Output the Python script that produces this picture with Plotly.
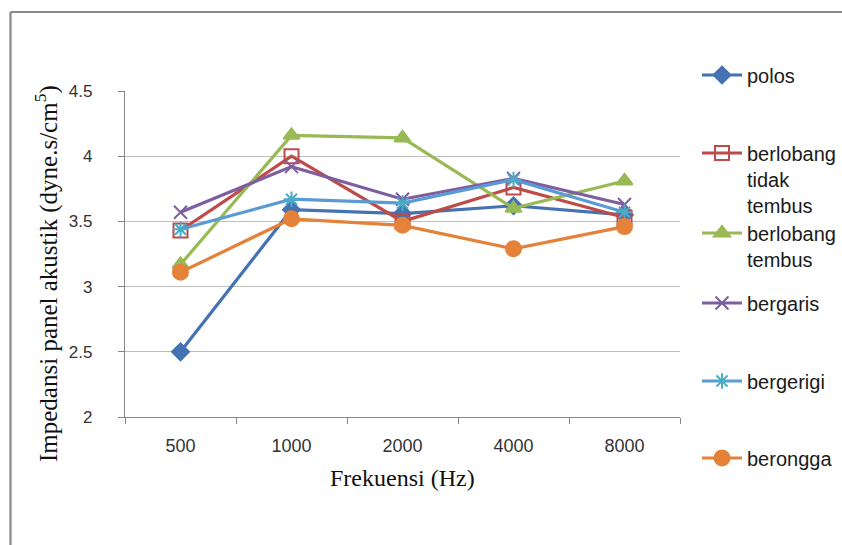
import plotly.graph_objects as go

categories = ["500", "1000", "2000", "4000", "8000"]
polos = [2.50, 3.59, 3.56, 3.62, 3.55]
berlobang_tidak_tembus = [3.43, 4.00, 3.50, 3.76, 3.53]
berlobang_tembus = [3.17, 4.16, 4.14, 3.60, 3.81]
bergaris = [3.57, 3.92, 3.67, 3.83, 3.63]
bergerigi = [3.44, 3.67, 3.64, 3.82, 3.57]
berongga = [3.11, 3.52, 3.47, 3.29, 3.46]

series = [
    ("polos", polos, "#4472B2", "#4472B2", "diamond", 13),
    ("berlobang<br>tidak<br>tembus", berlobang_tidak_tembus, "#BE4B48", "#BE4B48", "square-open", 14),
    ("berlobang<br>tembus", berlobang_tembus, "#98B954", "#98B954", "triangle-up", 14),
    ("bergaris", bergaris, "#7D5FA0", "#7D5FA0", "x-thin-open", 13),
    ("bergerigi", bergerigi, "#5B9BD5", "#4BACC6", "asterisk-open", 13),
    ("berongga", berongga, "#E5823A", "#E5823A", "circle", 15),
]
legend_first_line_px = [75, 153, 233, 303, 381, 458]

ml, mr, mt, mb = 125, 162, 91, 128
W, H = 842, 545
pw, ph = W - ml - mr, H - mt - mb

def px2x(px):
    return (px - ml) / pw

def px2y(py):
    return (H - mb - py) / ph

fig = go.Figure()
legend_layouts = {}
for i, (name, vals, lc, mc, sym, sz) in enumerate(series):
    lid = "legend" if i == 0 else f"legend{i + 1}"
    fig.add_trace(go.Scatter(
        x=categories, y=vals, name=name, mode="lines+markers",
        legend=lid,
        line=dict(color=lc, width=3.2),
        marker=dict(symbol=sym, size=sz, color=mc,
                    line=dict(color=mc, width=2)),
    ))
    legend_layouts[lid] = dict(
        xref="container", yref="container",
        x=697 / W, y=1 - (legend_first_line_px[i] - 19.5) / H,
        xanchor="left", yanchor="top",
        font=dict(size=20, family="Liberation Sans, Arial, sans-serif", color="#1a1a1a"),
        valign="top", bgcolor="rgba(0,0,0,0)", itemwidth=40,
    )

fig.update_layout(
    width=W, height=H,
    margin=dict(l=ml, r=mr, t=mt, b=mb),
    paper_bgcolor="white", plot_bgcolor="white",
    font=dict(family="Liberation Sans, Arial, sans-serif", color="#262626"),
    showlegend=True,
    xaxis=dict(
        type="category", range=[-0.5, 4.5],
        showline=True, linecolor="#878787", linewidth=1.3,
        ticks="outside", ticklen=6, tickcolor="#878787", tickson="boundaries",
        showgrid=False, zeroline=False,
        tickfont=dict(size=18, color="#333333"),
        ticklabelstandoff=12,
    ),
    yaxis=dict(
        range=[2, 4.5], dtick=0.5, tick0=2,
        showline=True, linecolor="#878787", linewidth=1.3,
        ticks="outside", ticklen=6, tickcolor="#878787",
        showgrid=True, gridcolor="#BEBEBE", gridwidth=1.3,
        zeroline=False,
        tickfont=dict(size=17, color="#333333"),
        ticklabelstandoff=22,
    ),
    annotations=[
        dict(text="Frekuensi (Hz)", x=px2x(402.5), y=px2y(478), xref="paper", yref="paper",
             showarrow=False, xanchor="center", yanchor="middle",
             font=dict(family="Liberation Serif, Times New Roman, serif", size=24, color="#111111")),
        dict(text="Impedansi panel akustik (dyne.s/cm<sup>5</sup>)", x=px2x(46), y=px2y(274),
             xref="paper", yref="paper", textangle=-90,
             showarrow=False, xanchor="center", yanchor="middle",
             font=dict(family="Liberation Serif, Times New Roman, serif", size=25, color="#111111")),
    ],
    shapes=[
        dict(type="line", xref="paper", yref="paper", x0=px2x(10.5), x1=px2x(860),
             y0=px2y(12), y1=px2y(12), line=dict(color="#888888", width=2.2)),
        dict(type="line", xref="paper", yref="paper", x0=px2x(10.5), x1=px2x(10.5),
             y0=px2y(12), y1=px2y(560), line=dict(color="#888888", width=2.2)),
    ],
)
fig.update_layout(**legend_layouts)

fig.write_html(
    "out.html",
    config={"displayModeBar": False},
    post_script="document.body.style.margin='0';document.body.style.overflow='hidden';",
)
